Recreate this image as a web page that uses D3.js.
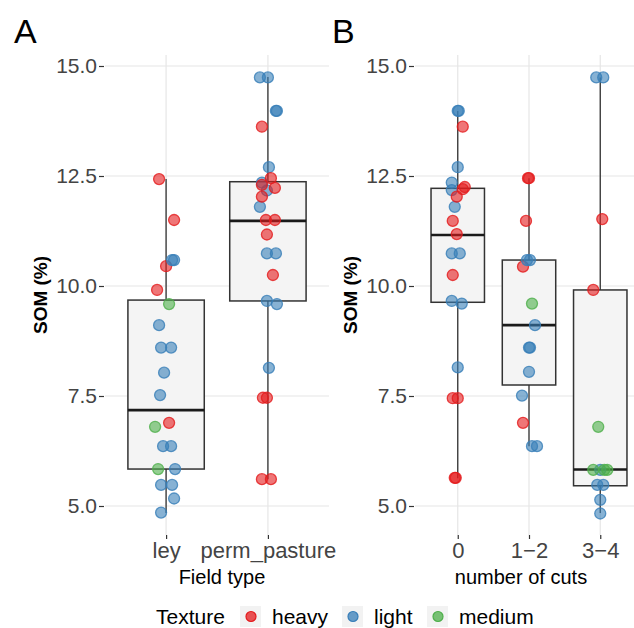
<!DOCTYPE html>
<html>
<head>
<meta charset="utf-8">
<script src="https://cdn.jsdelivr.net/npm/d3@7"></script>
<style>
  body { margin: 0; background: #fff; }
  text { font-family: "Liberation Sans", Arial, sans-serif; }
</style>
</head>
<body>
<div class="svg-wrapper"></div>
<script>
// textures and colours (Set1)
var textures = ["heavy", "light", "medium"];
var texColors = ["#E41A1C", "#377EB8", "#4DAF4A"];

// panel A: field type
var fieldTypes = ["ley", "perm_pasture"];
var leyTex   = ["heavy","heavy","heavy","heavy","heavy",
                "light","light","light","light","light","light","light","light","light","light","light","light","light","light",
                "medium","medium","medium"];
var leySom   = [12.43, 11.5, 10.45, 9.91, 6.89,
                10.59, 10.59, 9.11, 8.6, 8.6, 8.03, 7.52, 6.36, 6.36, 5.84, 5.48, 5.48, 5.17, 4.85,
                9.59, 6.8, 5.84];
var leyJit   = [-7, 8, 0, -9, 3,
                8, 6, -7, -5, 5, -2, -6, -3, 5, 9, -5, 6, 8, -5,
                3, -11, -8];
var permTex  = ["light","light","light","light","light","light","light","light","light","light","light","light","light",
                "heavy","heavy","heavy","heavy","heavy","heavy","heavy","heavy","heavy","heavy","heavy","heavy","heavy"];
var permSom  = [14.74, 14.74, 13.98, 13.98, 12.7, 12.35, 12.17, 11.8, 10.74, 10.74, 9.66, 9.59, 8.14,
                13.62, 12.45, 12.3, 12.23, 12.03, 11.5, 11.5, 11.17, 10.25, 7.46, 7.46, 5.61, 5.61];
var permJit  = [-8, 0, 8, 9, 1, -6, -1, -8, -1, 8, -1, 9, 1,
                -6, 3, -6, 7, -6, -2, 7, -1, 5, -5, -1, -6, 3];

// panel B: number of cuts
var cutLevels = ["0", "1\u22122", "3\u22124"];
var cut0Tex  = ["light","light","light","light","light","light","light","light","light","light","light",
                "heavy","heavy","heavy","heavy","heavy","heavy","heavy","heavy","heavy","heavy","heavy"];
var cut0Som  = [13.98, 13.98, 12.7, 12.35, 12.18, 11.8, 10.74, 10.74, 9.66, 9.6, 8.15,
                13.62, 12.25, 12.2, 12.03, 11.48, 11.18, 10.25, 7.45, 7.45, 5.64, 5.64];
var cut0Jit  = [0, 1, 0, -6, -6, -3, -6, 2, -6, 4, 0,
                5, 7, 5, -1, -5, -1, -5, -5, 0, -3, -2];
var cut12Tex = ["heavy","heavy","heavy","heavy","heavy",
                "light","light","light","light","light","light","light","light","light",
                "medium"];
var cut12Som = [12.45, 12.45, 11.48, 10.44, 6.89,
                10.59, 10.59, 9.11, 8.6, 8.6, 8.05, 7.51, 6.36, 6.36,
                9.6];
var cut12Jit = [-1, 0, -3, -6, -6,
                -2, 1, 6, 0, 1, 0, -7, 3, 8,
                3];
var cut34Tex = ["light","light","light","light","light","light","light",
                "heavy","heavy",
                "medium","medium","medium","medium"];
var cut34Som = [14.74, 14.74, 5.82, 5.48, 5.48, 5.14, 4.83,
                11.52, 9.91,
                6.8, 5.82, 5.82, 5.82];
var cut34Jit = [-4, 3, 0, -3, 3, 0, 0,
                2, -7,
                -2, -7, 4, 7];

// box statistics [lower whisker, q1, median, q3, upper whisker]
var leyBox   = [4.84, 5.84, 7.18, 9.68, 12.43];
var permBox  = [5.61, 9.66, 11.48, 12.37, 14.75];
var cut0Box  = [5.63, 9.63, 11.16, 12.22, 13.98];
var cut12Box = [6.36, 7.75, 9.11, 10.59, 12.45];
var cut34Box = [4.84, 5.46, 5.83, 9.91, 14.74];

var yTicks = [5, 7.5, 10, 12.5, 15];

var width = 634, height = 628;
var svg = d3.select(".svg-wrapper").append("svg")
  .attr("width", width).attr("height", height);

var color = d3.scaleOrdinal().domain(textures).range(texColors);
var y = d3.scaleLinear().domain([5, 15]).range([506, 66]);
var panelTop = 55, panelBottom = 535;

function group(cat, tex, som, jit, box) {
  return {cat: cat, box: box, pts: som.map(function(v, i) {
    return {som: v, tex: tex[i], jit: jit[i]};
  })};
}

function drawPanel(opt) {
  var g = svg.append("g");
  var x = d3.scalePoint().domain(opt.cats).range([opt.left, opt.right]).padding(0.6);
  var bw = x.step() * 0.75;

  // grid
  g.selectAll(".hg").data(yTicks).enter().append("line")
    .attr("x1", opt.left).attr("x2", opt.right)
    .attr("y1", function(d) { return y(d); }).attr("y2", function(d) { return y(d); })
    .attr("stroke", "#e6e6e6").attr("stroke-width", 1.2);
  g.selectAll(".vg").data(opt.cats).enter().append("line")
    .attr("x1", function(d) { return x(d); }).attr("x2", function(d) { return x(d); })
    .attr("y1", panelTop).attr("y2", panelBottom)
    .attr("stroke", "#e6e6e6").attr("stroke-width", 1.2);

  // y axis
  var yAxis = d3.axisLeft(y).tickValues(yTicks).tickFormat(d3.format(".1f"))
    .tickSize(5).tickPadding(2);
  var ya = g.append("g").attr("transform", "translate(" + (opt.left - 1) + ",0)").call(yAxis);
  ya.select(".domain").remove();
  ya.selectAll("line").attr("stroke", "#333").attr("stroke-width", 1.2);
  ya.selectAll("text").attr("fill", "#444").style("font-size", "21px")
    .style("font-family", "Liberation Sans, Arial, sans-serif");

  // x axis
  var xAxis = d3.axisBottom(x).tickSize(4).tickPadding(3);
  var xa = g.append("g").attr("transform", "translate(0," + panelBottom + ")").call(xAxis);
  xa.select(".domain").remove();
  xa.selectAll("line").attr("stroke", "#333").attr("stroke-width", 1.2);
  xa.selectAll("text").attr("fill", "#444").style("font-size", "22px")
    .style("font-family", "Liberation Sans, Arial, sans-serif");

  // boxes
  opt.groups.forEach(function(gr) {
    var cx = x(gr.cat), b = gr.box;
    g.append("line").attr("x1", cx).attr("x2", cx)
      .attr("y1", y(b[4])).attr("y2", y(b[3]))
      .attr("stroke", "#333").attr("stroke-width", 1.3);
    g.append("line").attr("x1", cx).attr("x2", cx)
      .attr("y1", y(b[1])).attr("y2", y(b[0]))
      .attr("stroke", "#333").attr("stroke-width", 1.3);
    g.append("rect").attr("x", cx - bw / 2).attr("width", bw)
      .attr("y", y(b[3])).attr("height", y(b[1]) - y(b[3]))
      .attr("fill", "#f4f4f4").attr("stroke", "#333").attr("stroke-width", 1.5);
    g.append("line").attr("x1", cx - bw / 2).attr("x2", cx + bw / 2)
      .attr("y1", y(b[2])).attr("y2", y(b[2]))
      .attr("stroke", "#1a1a1a").attr("stroke-width", 2.6);
  });

  // points
  opt.groups.forEach(function(gr) {
    g.selectAll(null).data(gr.pts).enter().append("circle")
      .attr("cx", function(d) { return x(gr.cat) + d.jit; })
      .attr("cy", function(d) { return y(d.som); })
      .attr("r", 5.5)
      .attr("fill", function(d) { return color(d.tex); })
      .attr("fill-opacity", 0.6)
      .attr("stroke", function(d) { return color(d.tex); })
      .attr("stroke-opacity", 0.8)
      .attr("stroke-width", 1.3);
  });

  // labels
  svg.append("text").attr("x", opt.tagX).attr("y", 43)
    .style("font-size", "34px").attr("fill", "#000").text(opt.tag);
  svg.append("text")
    .attr("transform", "translate(" + opt.yTitleX + "," + ((panelTop + panelBottom) / 2) + ") rotate(-90)")
    .attr("text-anchor", "middle").style("font-size", "19px").style("font-weight", "bold")
    .attr("fill", "#000").text("SOM (%)");
  svg.append("text").attr("x", opt.xTitleX).attr("y", 584)
    .attr("text-anchor", "middle").style("font-size", "20px").attr("fill", "#000")
    .text(opt.xTitle);
}

drawPanel({
  cats: fieldTypes, left: 105, right: 329, tag: "A", tagX: 14, yTitleX: 47,
  xTitle: "Field type", xTitleX: 222,
  groups: [group("ley", leyTex, leySom, leyJit, leyBox),
           group("perm_pasture", permTex, permSom, permJit, permBox)]
});
drawPanel({
  cats: cutLevels, left: 415, right: 643, tag: "B", tagX: 332, yTitleX: 357,
  xTitle: "number of cuts", xTitleX: 521,
  groups: [group(cutLevels[0], cut0Tex, cut0Som, cut0Jit, cut0Box),
           group(cutLevels[1], cut12Tex, cut12Som, cut12Jit, cut12Box),
           group(cutLevels[2], cut34Tex, cut34Som, cut34Jit, cut34Box)]
});

// legend
var legend = svg.append("g");
legend.append("text").attr("x", 156).attr("y", 624)
  .style("font-size", "21px").attr("fill", "#000").text("Texture");
var legX = [240, 342, 427];
textures.forEach(function(t, i) {
  legend.append("rect").attr("x", legX[i]).attr("y", 606).attr("width", 21).attr("height", 21)
    .attr("fill", "#f2f2f2");
  legend.append("circle").attr("cx", legX[i] + 11).attr("cy", 616.5).attr("r", 5)
    .attr("fill", color(t)).attr("fill-opacity", 0.75)
    .attr("stroke", color(t)).attr("stroke-width", 1.2);
  legend.append("text").attr("x", legX[i] + 32).attr("y", 624)
    .style("font-size", "21px").attr("fill", "#000").text(t);
});
</script>
</body>
</html>
